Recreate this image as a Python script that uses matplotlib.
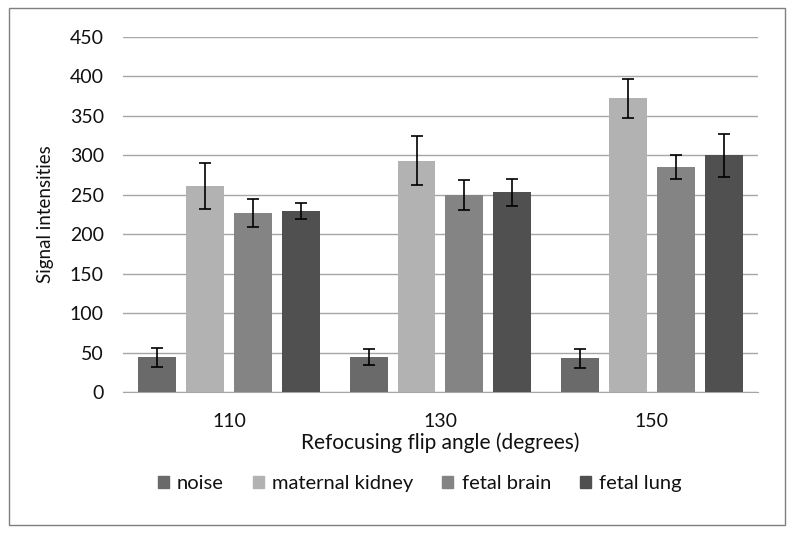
import matplotlib.pyplot as plt
import matplotlib.patches as mpatches
import numpy as np

# ── Data ──────────────────────────────────────────────────────────────────────
angles = ["110", "130", "150"]
series = ["noise", "maternal kidney", "fetal brain", "fetal lung"]
noise = [44, 44, 43]
kidney = [261, 293, 372]
brain = [227, 250, 285]
lung = [229, 253, 300]
noise_err = [12, 10, 12]
kidney_err = [29, 31, 25]
brain_err = [18, 19, 15]
lung_err = [10, 17, 27]

values = [noise, kidney, brain, lung]
errors = [noise_err, kidney_err, brain_err, lung_err]
colors = ["#6a6a6a", "#b2b2b2", "#848484", "#505050"]

plt.rcParams["font.family"] = ["Lato", "DejaVu Sans"]

fig = plt.figure(figsize=(7.95, 5.33), dpi=100)
ax = fig.add_axes([0.155, 0.2645, 0.798, 0.6665])

x = np.arange(len(angles))
width = 0.179
step = 0.226
for i, (vals, errs, c, name) in enumerate(zip(values, errors, colors, series)):
    pos = x + (i - 1.5) * step
    ax.bar(pos, vals, width, color=c, label=name, zorder=3)
    ax.errorbar(pos, vals, yerr=errs, fmt="none", ecolor="black",
                elinewidth=1.2, capsize=4, capthick=1.2, zorder=4)

ax.set_xlim(-0.5, 2.5)
ax.set_ylim(0, 450)
ax.set_yticks(range(0, 451, 50))
ax.set_xticks(x)
ax.set_xticklabels(angles)
ax.grid(axis="y", color="#a6a6a6", linewidth=1.0, zorder=0)
for s in ["top", "right", "left"]:
    ax.spines[s].set_visible(False)
ax.spines["bottom"].set_color("#a6a6a6")
ax.tick_params(axis="both", length=0, labelsize=14, colors="#111111")
ax.tick_params(axis="x", pad=15)
ax.tick_params(axis="y", pad=14)
ax.set_ylabel("Signal intensities", fontsize=13.5, color="#111111", labelpad=11)
ax.set_xlabel("Refocusing flip angle (degrees)", fontsize=15, color="#111111", labelpad=2)

fig.legend(handles=[mpatches.Patch(color=c, label=n) for c, n in zip(colors, series)],
           loc="center", bbox_to_anchor=(0.528, 0.092), ncol=4, frameon=False,
           fontsize=14.5, handlelength=0.55, handleheight=0.55, handletextpad=0.4,
           columnspacing=1.45, labelcolor="#111111")

fig.add_artist(mpatches.Rectangle((0.011, 0.015), 0.977, 0.97, transform=fig.transFigure,
                                  fill=False, edgecolor="#7f7f7f", linewidth=1.0))

fig.savefig("out.png", dpi=100, facecolor="white")
